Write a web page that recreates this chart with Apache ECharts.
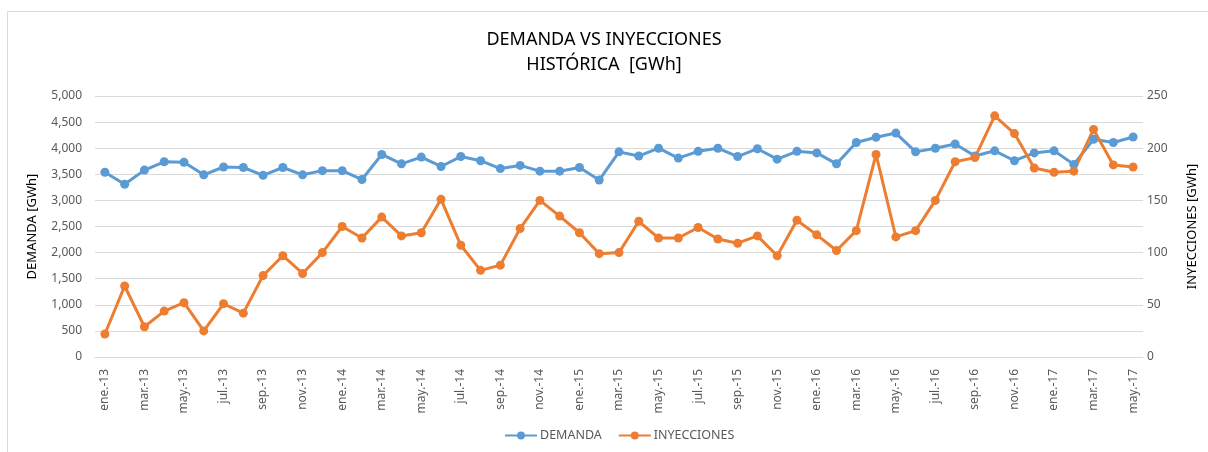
<!DOCTYPE html>
<html lang="es">
  <head>
    <meta charset="UTF-8" />
    <title>Demanda vs Inyecciones</title>
    <script src="https://cdn.jsdelivr.net/npm/echarts@6/dist/echarts.min.js"></script>
    <style>
      html, body { margin: 0; padding: 0; background: #fff; }
      #chart { width: 1208px; height: 452px; }
    </style>
  </head>
  <body>
    <div id="chart"></div>
    <script>
      // meses ene.-13 .. may.-17
      var meses = ["ene.", "feb.", "mar.", "abr.", "may.", "jun.", "jul.", "ago.", "sep.", "oct.", "nov.", "dic."];
      var categorias = [];
      for (var a = 13; a <= 17; a++) {
        for (var m = 0; m < 12; m++) {
          if (a === 17 && m > 4) break;
          categorias.push(meses[m] + "-" + a);
        }
      }

      // GWh
      var demanda = [
        3540, 3310, 3580, 3740, 3730, 3490, 3640, 3630, 3480, 3630, 3490, 3570,
        3570, 3400, 3880, 3700, 3830, 3650, 3840, 3760, 3610, 3670, 3560, 3560,
        3630, 3390, 3930, 3850, 4000, 3810, 3940, 4000, 3840, 3990, 3790, 3940,
        3910, 3700, 4110, 4210, 4290, 3930, 4000, 4080, 3850, 3950, 3760, 3910,
        3950, 3690, 4170, 4110, 4215
      ];
      var inyecciones = [
        22, 68, 29, 44, 52, 25, 51, 42, 78, 97, 80, 100,
        125, 114, 134, 116, 119, 151, 107, 83, 88, 123, 150, 135,
        119, 99, 100, 130, 114, 114, 124, 113, 109, 116, 97, 131,
        117, 102, 121, 194, 115, 121, 150, 187, 191, 231, 214, 181,
        177, 178, 218, 184, 182
      ];

      var ticksIzq = [0, 5000, 500];
      var ticksDer = [0, 250, 50];

      var gris = "#595959";
      var chart = echarts.init(document.getElementById("chart"));
      chart.setOption({
        backgroundColor: "#fff",
        textStyle: { fontFamily: "Noto Sans" },
        title: {
          text: "DEMANDA VS INYECCIONES\nHISTÓRICA  [GWh]",
          left: "center",
          top: 22,
          textStyle: { fontSize: 18, fontWeight: "normal", color: "#000", lineHeight: 25, fontFamily: "Noto Sans" },
        },
        graphic: [
          {
            type: "rect",
            shape: { x: 7.5, y: 11.5, width: 1300, height: 500 },
            style: { fill: null, stroke: "#d9d9d9", lineWidth: 1 },
            silent: true,
          },
        ],
        legend: {
          bottom: 5,
          left: 499,
          itemWidth: 32,
          itemHeight: 10,
          itemGap: 16,
          textStyle: { color: gris, fontSize: 12.5, padding: [0, 0, 0, -2] },
          data: ["DEMANDA", "INYECCIONES"],
        },
        grid: { left: 95, right: 65, top: 96, bottom: 95 },
        xAxis: {
          type: "category",
          data: categorias,
          boundaryGap: true,
          axisLine: { lineStyle: { color: "#d9d9d9" } },
          axisTick: { interval: 1, length: 5, lineStyle: { color: "#d9d9d9" } },
          axisLabel: { interval: 1, rotate: 90, color: gris, fontSize: 12, margin: 12 },
        },
        yAxis: [
          {
            type: "value",
            min: ticksIzq[0],
            max: ticksIzq[1],
            interval: ticksIzq[2],
            name: "DEMANDA [GWh]",
            nameLocation: "middle",
            nameGap: 56,
            nameTextStyle: { color: "#000", fontSize: 13 },
            axisLine: { show: false },
            axisTick: { show: false },
            axisLabel: {
              color: gris,
              fontSize: 12,
              margin: 13,
              formatter: function (v) { return v.toLocaleString("en-US"); },
            },
            splitLine: { lineStyle: { color: "#d9d9d9" } },
          },
          {
            type: "value",
            min: ticksDer[0],
            max: ticksDer[1],
            interval: ticksDer[2],
            name: "INYECCIONES [GWh]",
            nameLocation: "middle",
            nameGap: 43,
            nameTextStyle: { color: "#000", fontSize: 13 },
            axisLine: { show: false },
            axisTick: { show: false },
            axisLabel: { color: gris, fontSize: 12, margin: 4 },
            splitLine: { show: false },
          },
        ],
        series: [
          {
            name: "DEMANDA",
            type: "line",
            yAxisIndex: 0,
            data: demanda,
            color: "#5b9bd5",
            symbol: "circle",
            symbolSize: 9,
            lineStyle: { width: 3 },
          },
          {
            name: "INYECCIONES",
            type: "line",
            yAxisIndex: 1,
            data: inyecciones,
            color: "#ed7d31",
            symbol: "circle",
            symbolSize: 9,
            lineStyle: { width: 3 },
          },
        ],
      });
    </script>
  </body>
</html>
